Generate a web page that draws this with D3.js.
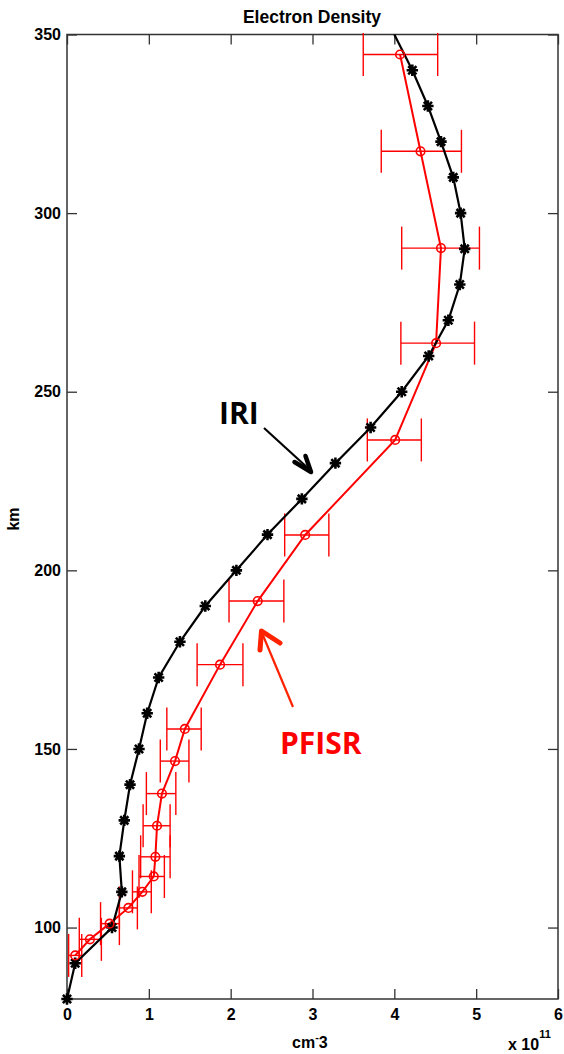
<!DOCTYPE html>
<html>
<head>
<meta charset="utf-8">
<script src="https://cdn.jsdelivr.net/npm/d3@7"></script>
<style>
  html, body { margin: 0; padding: 0; background: #fff; }
  svg { display: block; }
  .tick text { font-family: "Liberation Sans", Arial, sans-serif; font-weight: bold; font-size: 16px; fill: #000; }
</style>
</head>
<body>
<svg id="chart" width="564" height="1054"></svg>
<script>
// ---- Data ----
const xTicks = [0, 1, 2, 3, 4, 5, 6];
const yTicks = [100, 150, 200, 250, 300, 350];

// IRI model profile (x 1e11 cm^-3) vs altitude (km)
const iriAlt = [80, 90, 100, 110, 120, 130, 140, 150, 160, 170, 180, 190, 200, 210,
                220, 230, 240, 250, 260, 270, 280, 290, 300, 310, 320, 330, 340, 350];
const iriVal = [0.00, 0.10, 0.55, 0.67, 0.64, 0.70, 0.77, 0.88, 0.98, 1.12, 1.38, 1.69, 2.07, 2.45,
                2.87, 3.28, 3.71, 4.09, 4.42, 4.66, 4.80, 4.86, 4.81, 4.72, 4.57, 4.41, 4.22, 4.00];

// PFISR measurements with horizontal error bars
const pfAlt = [92.2, 96.7, 101.1, 105.5, 110.0, 114.3, 119.8, 128.5, 137.5, 146.6, 155.6, 173.6,
               191.4, 209.9, 236.5, 263.6, 290.2, 317.3, 344.4];
const pfVal = [0.10, 0.28, 0.52, 0.75, 0.92, 1.06, 1.08, 1.10, 1.16, 1.32, 1.44, 1.87,
               2.33, 2.91, 4.01, 4.51, 4.57, 4.32, 4.07];
const pfLo  = [0.02, 0.15, 0.41, 0.64, 0.80, 0.88, 0.90, 0.93, 0.97, 1.14, 1.22, 1.59,
               1.98, 2.66, 3.67, 4.08, 4.09, 3.84, 3.62];
const pfHi  = [0.18, 0.42, 0.64, 0.86, 1.03, 1.19, 1.26, 1.26, 1.33, 1.49, 1.64, 2.15,
               2.65, 3.20, 4.33, 4.98, 5.04, 4.82, 4.53];

// ---- Layout ----
const pL = 67, pR = 558, pT = 34.5, pB = 999;
const x = d3.scaleLinear().domain([0, 6]).range([pL, pR]);
const y = d3.scaleLinear().domain([80, 350]).range([pB, pT]);

const svg = d3.select("#chart");

// Title
svg.append("text")
  .attr("x", 312).attr("y", 22.5)
  .attr("text-anchor", "middle")
  .style("font-family", "Liberation Sans, Arial, sans-serif")
  .style("font-weight", "bold").style("font-size", "17.5px")
  .text("Electron Density");

// Axes (inward ticks)
const tickLen = -10;
const axB = svg.append("g").attr("transform", `translate(0,${pB})`)
  .call(d3.axisBottom(x).tickValues(xTicks).tickFormat(d3.format("d")).tickSizeInner(tickLen).tickSizeOuter(0).tickPadding(10));
const axT = svg.append("g").attr("transform", `translate(0,${pT})`)
  .call(d3.axisTop(x).tickValues(xTicks).tickFormat("").tickSizeInner(tickLen).tickSizeOuter(0));
const axL = svg.append("g").attr("transform", `translate(${pL},0)`)
  .call(d3.axisLeft(y).tickValues(yTicks).tickFormat(d3.format("d")).tickSizeInner(tickLen).tickSizeOuter(0).tickPadding(6));
const axR = svg.append("g").attr("transform", `translate(${pR},0)`)
  .call(d3.axisRight(y).tickValues(yTicks).tickFormat("").tickSizeInner(tickLen).tickSizeOuter(0));
[axB, axT, axL, axR].forEach(g => {
  g.select(".domain").remove();
  g.selectAll(".tick line").attr("stroke", "#333").attr("stroke-width", 1.3);
});
axB.selectAll(".tick text").attr("dy", "0.71em");

// Frame
svg.append("rect")
  .attr("x", pL).attr("y", pT)
  .attr("width", pR - pL).attr("height", pB - pT)
  .attr("fill", "none").attr("stroke", "#333").attr("stroke-width", 1.5);

// Axis labels
svg.append("text")
  .attr("transform", "translate(19,519) rotate(-90)")
  .attr("text-anchor", "middle")
  .style("font-family", "Liberation Sans, Arial, sans-serif")
  .style("font-weight", "bold").style("font-size", "16px")
  .text("km");

const xl = svg.append("text")
  .attr("x", 292).attr("y", 1048)
  .style("font-family", "Liberation Sans, Arial, sans-serif")
  .style("font-weight", "bold").style("font-size", "16px");
xl.append("tspan").text("cm");
xl.append("tspan").attr("dy", -7).style("font-size", "11px").text("-");
xl.append("tspan").attr("dy", 7).text("3");

const xe = svg.append("text")
  .attr("x", 508).attr("y", 1050)
  .style("font-family", "Liberation Sans, Arial, sans-serif")
  .style("font-weight", "bold").style("font-size", "16px");
xe.append("tspan").text("x 10");
xe.append("tspan").attr("dy", -12).style("font-size", "11px").text("11");

// ---- Series ----
const iri = iriAlt.map((a, i) => ({alt: a, v: iriVal[i]}));
const pf = pfAlt.map((a, i) => ({alt: a, v: pfVal[i], lo: pfLo[i], hi: pfHi[i]}));

const line = d3.line().x(d => x(d.v)).y(d => y(d.alt));

// PFISR error bars
const capH = 21.5;
const red = "#ff0000";
const eb = svg.append("g").attr("stroke", red).attr("stroke-width", 1.4).attr("fill", "none");
pf.forEach(d => {
  eb.append("line").attr("x1", x(d.lo)).attr("x2", x(d.hi)).attr("y1", y(d.alt)).attr("y2", y(d.alt));
  eb.append("line").attr("x1", x(d.lo)).attr("x2", x(d.lo)).attr("y1", y(d.alt) - capH).attr("y2", y(d.alt) + capH);
  eb.append("line").attr("x1", x(d.hi)).attr("x2", x(d.hi)).attr("y1", y(d.alt) - capH).attr("y2", y(d.alt) + capH);
});

svg.append("path").datum(pf)
  .attr("d", line).attr("fill", "none").attr("stroke", red).attr("stroke-width", 2);

svg.append("path").datum(iri)
  .attr("d", line).attr("fill", "none").attr("stroke", "#000").attr("stroke-width", 2.2);

// IRI markers: MATLAB-like '*' (8 arms)
const star8 = {
  draw(ctx, size) {
    const r = Math.sqrt(size) / 2;
    const s = r * 0.72;
    ctx.moveTo(-r, 0); ctx.lineTo(r, 0);
    ctx.moveTo(0, -r); ctx.lineTo(0, r);
    ctx.moveTo(-s, -s); ctx.lineTo(s, s);
    ctx.moveTo(-s, s); ctx.lineTo(s, -s);
  }
};
svg.append("g").selectAll("path").data(iri.filter(d => d.alt < 350)).join("path")
  .attr("transform", d => `translate(${x(d.v)},${y(d.alt)})`)
  .attr("d", d3.symbol(star8, 130)())
  .attr("fill", "none").attr("stroke", "#000").attr("stroke-width", 2.6);

// PFISR markers: open circles
svg.append("g").selectAll("circle").data(pf).join("circle")
  .attr("cx", d => x(d.v)).attr("cy", d => y(d.alt)).attr("r", 4.3)
  .attr("fill", "none").attr("stroke", red).attr("stroke-width", 1.6);

// ---- Annotations ----
svg.append("text")
  .attr("x", 219).attr("y", 423.5)
  .style("font-family", "Open Sans, sans-serif")
  .style("font-weight", "bold").style("font-size", "30px")
  .attr("fill", "#000").text("IRI");
svg.append("path")
  .attr("d", "M264,428 L310,470")
  .attr("stroke", "#000").attr("stroke-width", 2.2).attr("fill", "none");
svg.append("path")
  .attr("d", "M294.5,462 L311,472 L305.5,456")
  .attr("stroke", "#000").attr("stroke-width", 4.5).attr("fill", "none")
  .attr("stroke-linecap", "round").attr("stroke-linejoin", "round");

svg.append("text")
  .attr("x", 280).attr("y", 753.5)
  .style("font-family", "Open Sans, sans-serif")
  .style("font-weight", "bold").style("font-size", "30px")
  .attr("fill", red).text("PFISR");
svg.append("path")
  .attr("d", "M293,707 L262,633")
  .attr("stroke", "#ff2200").attr("stroke-width", 2.2).attr("fill", "none");
svg.append("path")
  .attr("d", "M260,650 L261.5,631 L280,643")
  .attr("stroke", "#ff2200").attr("stroke-width", 5).attr("fill", "none")
  .attr("stroke-linecap", "round").attr("stroke-linejoin", "round");
</script>
</body>
</html>
